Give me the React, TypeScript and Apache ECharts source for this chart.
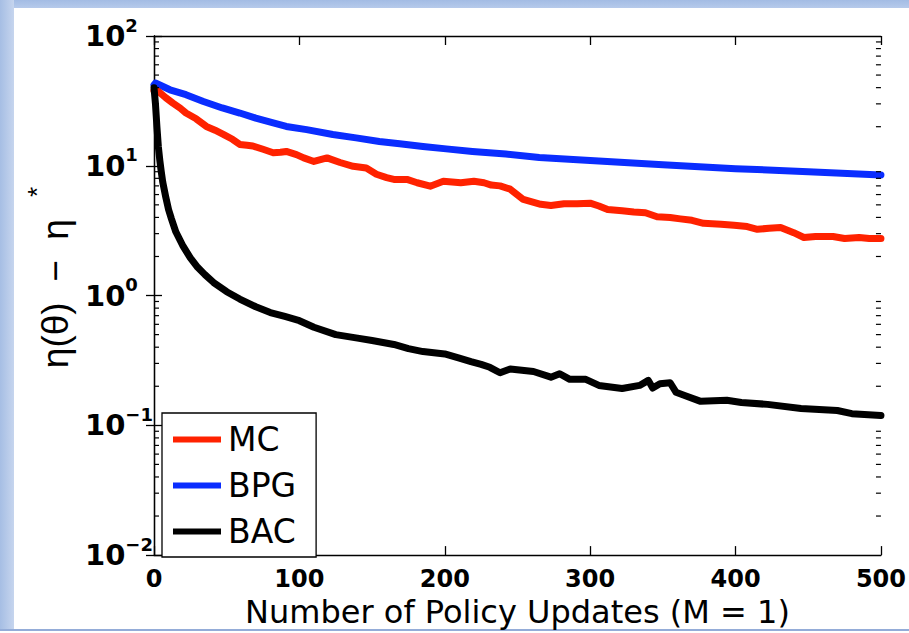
import React, { useEffect, useRef } from "react";
import * as echarts from "echarts";

const seriesNames = ["MC", "BPG", "BAC"];
const xTicks = [0, 100, 200, 300, 400, 500];
const yDecades = [0.01, 0.1, 1, 10, 100];

const mcX = [0, 3, 8, 13, 18, 22, 29, 36, 42, 48, 54, 59, 64, 68, 75, 82, 87, 91, 98, 103, 110, 119, 128, 137, 146, 153, 160, 165, 174, 181, 190, 199, 205, 211, 220, 227, 232, 238, 245, 254, 266, 273, 282, 291, 300, 306, 312, 322, 330, 338, 346, 355, 362, 370, 378, 390, 399, 408, 415, 423, 431, 440, 447, 455, 467, 475, 485, 492, 500];
const mcY = [38, 37.4, 33.5, 30.4, 27.8, 25.5, 23, 20.1, 18.8, 17.4, 16, 14.6, 14.4, 14.2, 13.4, 12.6, 12.7, 12.9, 12.2, 11.5, 10.8, 11.5, 10.6, 9.9, 9.6, 8.6, 8.1, 7.85, 7.85, 7.4, 6.96, 7.6, 7.5, 7.4, 7.6, 7.4, 7.1, 7.0, 6.6, 5.5, 5.05, 4.95, 5.1, 5.1, 5.15, 4.9, 4.6, 4.5, 4.4, 4.35, 4.05, 4.0, 3.9, 3.8, 3.6, 3.55, 3.48, 3.4, 3.24, 3.3, 3.35, 3.05, 2.8, 2.85, 2.85, 2.75, 2.8, 2.75, 2.75];

const bpgX = [0, 1, 11, 22, 34, 47, 59, 70, 82, 91, 105, 123, 139, 155, 169, 185, 201, 219, 242, 265, 300, 350, 400, 450, 500];
const bpgY = [42, 43.4, 38.5, 35.3, 31.3, 27.9, 25.5, 23.3, 21.4, 20.1, 19.0, 17.4, 16.4, 15.4, 14.8, 14.1, 13.5, 12.9, 12.3, 11.6, 11.0, 10.2, 9.5, 9.0, 8.5];

const bacX = [0, 1, 2, 3, 4, 5, 6, 8, 10, 12, 15, 20, 25, 30, 35, 41, 50, 59, 70, 80, 90, 100, 110, 125, 140, 150, 165, 175, 185, 200, 210, 218, 225, 231, 238, 245, 261, 273, 279, 286, 297, 306, 322, 334, 340, 343, 348, 355, 359, 365, 376, 394, 404, 422, 445, 470, 480, 500];
const bacY = [40, 30, 20, 14, 11, 9, 7.5, 5.8, 4.6, 3.9, 3.1, 2.4, 1.95, 1.65, 1.45, 1.26, 1.07, 0.94, 0.82, 0.74, 0.69, 0.64, 0.57, 0.5, 0.47, 0.45, 0.42, 0.39, 0.37, 0.355, 0.33, 0.31, 0.295, 0.28, 0.254, 0.272, 0.26, 0.235, 0.25, 0.226, 0.226, 0.203, 0.192, 0.203, 0.222, 0.194, 0.209, 0.213, 0.18, 0.17, 0.153, 0.156, 0.15, 0.145, 0.135, 0.13, 0.123, 0.119];

const minorMultipliers = [2, 3, 4, 5, 6, 7, 8, 9];

const colors = ["#ff2200", "#0a2dff", "#000000"];

const pairs = (xs: number[], ys: number[]) => xs.map((x, i) => [x, ys[i]]);

export default function App() {
  const ref = useRef<HTMLDivElement>(null);
  useEffect(() => {
    if (!ref.current) return;
    const chart = echarts.init(ref.current, undefined, { renderer: "svg" });
    const minorValues: number[][] = [];
    yDecades.slice(0, -1).forEach((d) => minorMultipliers.forEach((m) => minorValues.push([0, +(d * m).toPrecision(3)])));
    const font = "'Liberation Sans', Arial, Helvetica, sans-serif";
    const wide = "'DejaVu Sans', 'Liberation Sans', sans-serif";
    const yLabelFmt = (v: number) => {
      const e = Math.round(Math.log10(v));
      return `{b|10}{s|${e < 0 ? "\u2212" + -e : e}}`;
    };
    const logAxisBase = {
      type: "log" as const,
      logBase: 10,
      min: 0.01,
      max: 100,
      axisLine: { show: true, lineStyle: { color: "#000", width: 1.3 } },
      axisTick: { show: true, inside: true, length: 8, lineStyle: { color: "#000", width: 1.3 } },
      splitLine: { show: false },
      minorTick: { show: false },
    };
    const linAxisBase = {
      type: "value" as const,
      min: 0,
      max: 500,
      interval: 100,
      axisLine: { show: true, onZero: false, lineStyle: { color: "#000", width: 1.3 } },
      axisTick: { show: true, inside: true, length: 9, lineStyle: { color: "#000", width: 1.3 } },
      splitLine: { show: false },
    };
    const lineSeries = [pairs(mcX, mcY), pairs(bpgX, bpgY), pairs(bacX, bacY)].map((d, i) => ({
      name: seriesNames[i],
      type: "line" as const,
      data: d,
      showSymbol: false,
      symbol: "none",
      lineStyle: { color: colors[i], width: 7, join: "round", cap: "round" },
      itemStyle: { color: colors[i] },
      z: i === 2 ? 4 : i === 0 ? 3 : 2,
      clip: true,
    }));
    chart.setOption({
      animation: false,
      backgroundColor: "#ffffff",
      textStyle: { fontFamily: font },
      graphic: [
        {
          type: "rect",
          shape: { x: 0, y: 0, width: 909, height: 8 },
          style: {
            fill: new echarts.graphic.LinearGradient(0, 0, 0, 1, [
              { offset: 0, color: "#a3bce4" },
              { offset: 1, color: "#b6caeb" },
            ]),
          },
          silent: true,
          z: 0,
        },
        {
          type: "rect",
          shape: { x: 0, y: 0, width: 14, height: 631 },
          style: {
            fill: new echarts.graphic.LinearGradient(0, 0, 1, 0, [
              { offset: 0, color: "#a6bee4" },
              { offset: 1, color: "#c6d5ee" },
            ]),
          },
          silent: true,
          z: 0,
        },
        {
          type: "rect",
          shape: { x: 0, y: 629, width: 909, height: 2 },
          style: { fill: "#94acd8" },
          silent: true,
          z: 0,
        },
      ],
      grid: { left: 154, right: 28, top: 36, bottom: 76, containLabel: false },
      legend: {
        data: seriesNames,
        orient: "vertical",
        left: 162,
        top: 413,
        backgroundColor: "#ffffff",
        borderColor: "#000",
        borderWidth: 1.3,
        borderRadius: 0,
        padding: [10, 20, 9, 11],
        itemGap: 13,
        itemWidth: 48,
        itemHeight: 6,
        icon: "rect",
        textStyle: { fontFamily: wide, fontSize: 33, color: "#000", lineHeight: 30, padding: [0, 0, 0, 2] },
        selectedMode: false,
      },
      xAxis: [
        {
          ...linAxisBase,
          position: "bottom",
          name: "Number of Policy Updates (M = 1)",
          nameLocation: "middle",
          nameGap: 36,
          nameTextStyle: { fontFamily: wide, fontSize: 32, color: "#000" },
          axisLabel: { show: true, margin: 12, fontFamily: wide, fontSize: 24, fontWeight: "bold", color: "#000" },
        },
        {
          ...linAxisBase,
          position: "top",
          axisLabel: { show: false },
        },
      ],
      yAxis: [
        {
          ...logAxisBase,
          position: "left",
          name: "{a|\u03b7(\u03b8)  \u2212  \u03b7}{s|*}",
          nameLocation: "middle",
          nameGap: 64,
          nameRotate: 90,
          nameTextStyle: {
            fontFamily: font,
            color: "#000",
            rich: {
              a: { fontFamily: font, fontSize: 37, lineHeight: 50, verticalAlign: "bottom", color: "#000", padding: [0, 0, 0, 36] },
              s: { fontFamily: font, fontSize: 26, lineHeight: 26, verticalAlign: "top", color: "#000", padding: [0, 0, 0, 22] },
            },
          },
          axisLabel: {
            show: true,
            margin: 69,
            align: "left",
            formatter: yLabelFmt,
            rich: {
              b: { fontFamily: wide, fontSize: 29, fontWeight: "bold", color: "#000", lineHeight: 40, verticalAlign: "middle" },
              s: { fontFamily: wide, fontSize: 18, fontWeight: "bold", color: "#000", lineHeight: 19, verticalAlign: "top" },
            },
          },
        },
        {
          ...logAxisBase,
          position: "right",
          axisLabel: { show: false },
        },
      ],
      series: [
        ...lineSeries,
        {
          name: "minorTicks",
          type: "custom",
          xAxisIndex: 0,
          yAxisIndex: 0,
          silent: true,
          clip: false,
          z: 10,
          data: minorValues,
          renderItem: (params: any, api: any) => {
            const v = api.value(1);
            const left = api.coord([0, v]);
            const right = api.coord([500, v]);
            const st = { stroke: "#000", lineWidth: 1.2 };
            return {
              type: "group",
              children: [
                { type: "line", shape: { x1: left[0], y1: left[1], x2: left[0] + 5, y2: left[1] }, style: st },
                { type: "line", shape: { x1: right[0] - 5, y1: right[1], x2: right[0], y2: right[1] }, style: st },
              ],
            };
          },
        },
      ],
    });
    return () => chart.dispose();
  }, []);
  return <div ref={ref} style={{ position: "fixed", left: 0, top: 0, width: 909, height: 633 }} />;
}
